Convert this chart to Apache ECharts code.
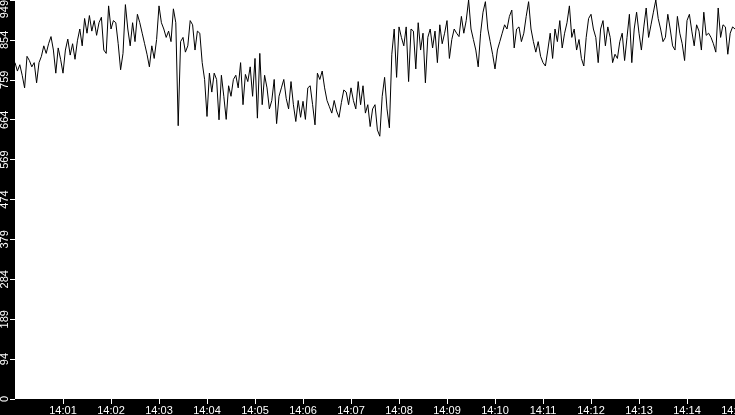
<!DOCTYPE html>
<html>
<head>
<meta charset="utf-8">
<script src="https://cdn.jsdelivr.net/npm/echarts@6/dist/echarts.min.js"></script>
<style>
  html, body { margin: 0; padding: 0; background: #000; }
  #main { width: 735px; height: 415px; }
</style>
</head>
<body>
<div id="main"></div>
<script>
// one sample every 3 seconds, starting 14:00:00
var stepSec = 3;
var startHour = 14;

// 14:00:00 - 14:02:30
var seg1 = [800, 780, 795, 770, 740, 815, 805, 790, 800, 752,
            800, 815, 840, 822, 845, 862, 830, 775, 835, 808,
            775, 830, 856, 818, 845, 808, 852, 880, 840, 905,
            870, 912, 875, 900, 865, 895, 908, 830, 822, 935,
            880, 900, 895, 845, 783, 822, 938, 880, 840, 895];
// 14:02:30 - 14:05:00
var seg2 = [850, 915, 895, 870, 845, 820, 790, 840, 810, 855,
            935, 895, 880, 860, 875, 850, 928, 895, 650, 850,
            860, 825, 840, 900, 890, 830, 875, 870, 800, 760,
            672, 775, 730, 775, 760, 664, 770, 720, 665, 745,
            720, 760, 770, 740, 800, 700, 772, 755, 790, 720];
// 14:05:00 - 14:07:30
var seg3 = [810, 668, 822, 700, 770, 740, 690, 710, 760, 655,
            720, 740, 760, 715, 690, 755, 700, 660, 710, 670,
            708, 665, 740, 745, 700, 652, 775, 760, 780, 740,
            710, 695, 680, 710, 685, 670, 705, 735, 730, 700,
            740, 710, 690, 755, 700, 745, 680, 700, 648, 690];
// 14:07:30 - 14:10:00
var seg4 = [700, 640, 625, 720, 765, 690, 645, 820, 880, 765,
            885, 860, 840, 885, 755, 880, 875, 785, 895, 830,
            870, 752, 860, 880, 835, 875, 800, 890, 845, 870,
            900, 810, 855, 880, 870, 862, 910, 870, 900, 949,
            880, 855, 830, 790, 870, 920, 945, 880, 850, 820];
// 14:10:00 - 14:12:30
var seg5 = [785, 830, 850, 870, 890, 880, 910, 925, 835, 880,
            885, 850, 870, 910, 945, 880, 850, 825, 850, 815,
            800, 792, 830, 870, 810, 880, 850, 900, 835, 870,
            895, 935, 860, 880, 830, 855, 810, 792, 860, 905,
            915, 880, 860, 800, 880, 900, 840, 885, 860, 800];
// 14:12:30 - 14:15:00
var seg6 = [820, 810, 850, 870, 805, 860, 915, 800, 880, 920,
            870, 830, 885, 930, 860, 890, 920, 949, 905, 880,
            850, 860, 915, 880, 840, 830, 910, 870, 845, 805,
            900, 915, 875, 840, 890, 875, 830, 920, 865, 870,
            860, 845, 825, 930, 860, 890, 885, 820, 870, 885, 880];

var values = seg1.concat(seg2, seg3, seg4, seg5, seg6);
var yMax = 949;

var points = values.map(function (v, i) {
    return [i * stepSec, v];
});

function pad(n) { return (n < 10 ? '0' : '') + n; }

var chart = echarts.init(document.getElementById('main'));

var labelFont = {
    color: '#fff',
    fontFamily: 'Liberation Sans',
    fontSize: 11
};

var option = {
    backgroundColor: '#000',
    animation: false,
    grid: {
        left: 15,
        right: 0,
        top: 0,
        bottom: 16,
        containLabel: false,
        outerBoundsMode: 'none',
        show: true,
        backgroundColor: '#fff',
        borderWidth: 0
    },
    xAxis: {
        type: 'value',
        min: 0,
        max: 900,
        interval: 60,
        axisLine: { show: false },
        splitLine: { show: false },
        axisTick: { show: true, length: 5, lineStyle: { color: '#fff', width: 1 } },
        axisLabel: Object.assign({
            margin: 6,
            showMinLabel: false,
            showMaxLabel: true,
            formatter: function (v) {
                return startHour + ':' + pad(Math.round(v / 60));
            }
        }, labelFont)
    },
    yAxis: {
        type: 'value',
        min: 0,
        max: yMax,
        interval: yMax / 10,
        axisLine: { show: false },
        splitLine: { show: false },
        axisTick: { show: true, length: 5, lineStyle: { color: '#fff', width: 1 } },
        axisLabel: Object.assign({
            rotate: 90,
            margin: 5,
            alignMaxLabel: 'right',
            formatter: function (v) {
                return String(Math.floor(v + 1e-9));
            }
        }, labelFont)
    },
    series: [{
        type: 'line',
        data: points,
        showSymbol: false,
        symbol: 'none',
        sampling: null,
        lineStyle: { color: '#000', width: 1 }
    }]
};

chart.setOption(option);
</script>
</body>
</html>
